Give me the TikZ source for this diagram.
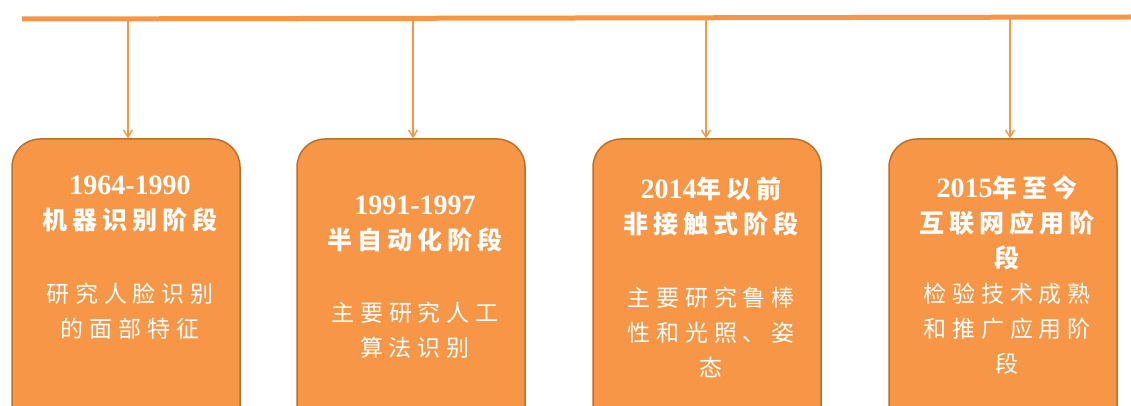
\documentclass[tikz,border=0pt]{standalone}
\usepackage{fontspec}
\usetikzlibrary{arrows.meta}
\newfontfamily\cjkt[LetterSpace=20]{Noto Sans CJK SC}
\newfontfamily\cjkb[LetterSpace=26]{Noto Sans CJK SC}
\newfontfamily\digf{Liberation Serif}
\newcommand{\dg}[1]{{\digf\fontsize{28}{35}\selectfont #1}}
\definecolor{orfill}{HTML}{F79646}
\definecolor{ordraw}{HTML}{B8702F}
\tikzset{
  stagebox/.style={draw=ordraw, line width=1.5pt, fill=orfill, rounded corners=28pt,
    minimum width=228pt, minimum height=300pt, inner sep=0pt},
  titletext/.style={text=white, align=center, inner sep=0pt,
    font=\cjkt\bfseries\fontsize{25}{35}\selectfont},
  bodytext/.style={text=white, align=center, inner sep=0pt,
    font=\cjkb\fontsize{23}{35}\selectfont},
  conn/.style={draw=orfill, line width=1.4pt, -{Straight Barb[length=7pt,width=9pt]}},
  mainline/.style={draw=orfill, line width=5pt}
}
\begin{document}
\begin{tikzpicture}[x=1pt,y=-1pt]
\useasboundingbox (0,0) rectangle (1131,406);
\clip (0,0) rectangle (1131,406);
\coordinate (L) at (22,19);
\coordinate (R) at (1131,17);
\draw[mainline] (L) -- (R);
\coordinate (t1) at (128,19);
\coordinate (t2) at (413,18.5);
\coordinate (t3) at (706,18);
\coordinate (t4) at (1010,17.5);
\node[stagebox] (b1) at (126,289) {};
\node[stagebox] (b2) at (411,289) {};
\node[stagebox] (b3) at (707,289) {};
\node[stagebox] (b4) at (1003,289) {};
\draw[conn] (t1) -- (t1 |- b1.north);
\draw[conn] (t2) -- (t2 |- b2.north);
\draw[conn] (t3) -- (t3 |- b3.north);
\draw[conn] (t4) -- (t4 |- b4.north);
\node[titletext] (h1) at (130,204) {\dg{1964-1990}\\机器识别阶段};
\node[bodytext] (d1) at (130,311) {研究人脸识别\\的面部特征};
\node[titletext] (h2) at (415,224) {\dg{1991-1997}\\半自动化阶段};
\node[bodytext] (d2) at (415,330) {主要研究人工\\算法识别};
\node[titletext] (h3) at (711,207) {\dg{2014}年以前\\非接触式阶段};
\node[bodytext] (d3) at (711,332) {主要研究鲁棒\\性和光照、姿\\态};
\node[titletext] (h4) at (1007,223) {\dg{2015}年至今\\互联网应用阶\\段};
\node[bodytext] (d4) at (1007,329) {检验技术成熟\\和推广应用阶\\段};
\end{tikzpicture}
\end{document}
